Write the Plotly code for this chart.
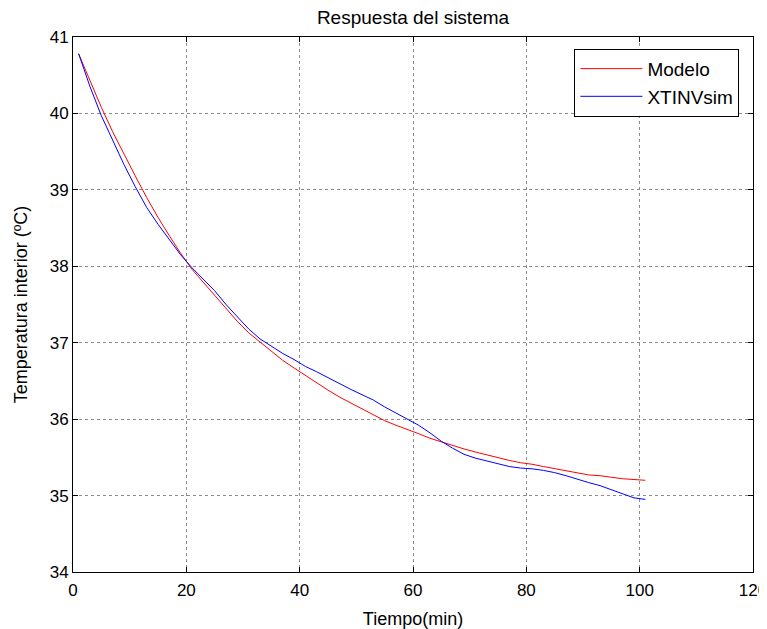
import plotly.graph_objects as go

tiempo = [1, 3, 5, 7, 9, 11, 13, 15, 17, 19, 21, 23, 25, 27, 29, 31, 33, 35, 37, 39,
          41, 43, 45, 47, 49, 51, 53, 55, 57, 59, 61, 63, 65, 67, 69, 71, 73, 75, 77, 79,
          81, 83, 85, 87, 89, 91, 93, 95, 97, 99, 101]

modelo = [40.78, 40.42, 40.08, 39.76, 39.46, 39.18, 38.90, 38.64, 38.40, 38.17,
          37.96, 37.79, 37.62, 37.44, 37.28, 37.13, 37.01, 36.88, 36.77, 36.67,
          36.57, 36.47, 36.38, 36.29, 36.21, 36.13, 36.05, 35.98, 35.92, 35.87,
          35.81, 35.75, 35.70, 35.65, 35.61, 35.57, 35.53, 35.50, 35.46, 35.43,
          35.41, 35.38, 35.35, 35.32, 35.29, 35.27, 35.26, 35.24, 35.22, 35.21, 35.20]

xtinvsim = [40.78, 40.35, 39.97, 39.65, 39.33, 39.04, 38.77, 38.55, 38.35, 38.15,
            37.98, 37.83, 37.68, 37.50, 37.34, 37.18, 37.05, 36.95, 36.86, 36.78,
            36.69, 36.62, 36.54, 36.46, 36.39, 36.32, 36.25, 36.16, 36.08, 36.00,
            35.92, 35.82, 35.71, 35.62, 35.54, 35.49, 35.45, 35.41, 35.38, 35.36,
            35.35, 35.33, 35.30, 35.26, 35.21, 35.17, 35.13, 35.08, 35.02, 34.97, 34.95]

FONT = "Liberation Sans, Arial, sans-serif"

# the page body adds an 8px offset, so the figure is sized to fit the window
W, H = 759, 621

fig = go.Figure()
fig.add_trace(go.Scatter(x=tiempo, y=modelo, mode="lines", name="Modelo",
                         legendgroup="a",
                         line=dict(color="#ff0000", width=1)))
fig.add_trace(go.Scatter(x=tiempo, y=xtinvsim, mode="lines", name="XTINVsim",
                         legendgroup="b",
                         line=dict(color="#0000ff", width=1)))

axis_common = dict(
    showline=True, mirror="ticks", linecolor="black", linewidth=1,
    ticks="inside", ticklen=5, tickcolor="black",
    showgrid=True, gridcolor="#8c8c8c", griddash="dot", gridwidth=1,
    zeroline=False, automargin=False, ticklabeloverflow="allow",
    tickfont=dict(family=FONT, size=17, color="black"),
)

fig.update_layout(
    width=W, height=H,
    paper_bgcolor="white", plot_bgcolor="white",
    margin=dict(l=65, r=14, t=29, b=57),
    font=dict(family=FONT, color="black"),
    title=dict(text="Respuesta del sistema", x=0.5, xref="paper", xanchor="center",
               y=1 - 9 / H, yanchor="middle",
               font=dict(family=FONT, size=19, color="black")),
    xaxis=dict(range=[0, 120], dtick=20, tick0=0, ticklabelstandoff=3,
               title=dict(text="Tiempo(min)", standoff=16,
                          font=dict(family=FONT, size=18, color="black")),
               **axis_common),
    yaxis=dict(range=[34, 41], dtick=1, tick0=34,
               title=dict(text="Temperatura interior (ºC)", standoff=17,
                          font=dict(family=FONT, size=18, color="black")),
               **axis_common),
    legend=dict(x=0.98, y=0.978, xanchor="right", yanchor="top",
                bgcolor="white", bordercolor="black", borderwidth=1,
                font=dict(family=FONT, size=19, color="black"),
                traceorder="grouped", tracegroupgap=0, itemwidth=62),
    showlegend=True,
)

fig.write_html("out.html")
